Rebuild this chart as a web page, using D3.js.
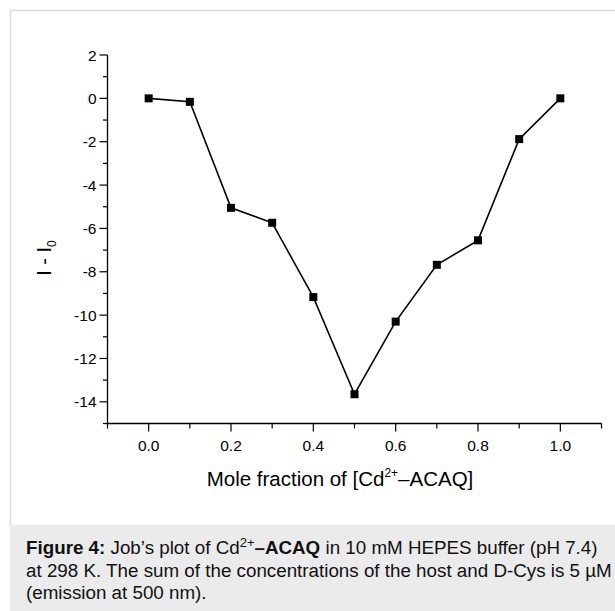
<!DOCTYPE html>
<html><head><meta charset="utf-8">
<script src="https://cdn.jsdelivr.net/npm/d3@7"></script>
<style>
body{margin:0;background:#fff;}
svg{display:block;font-family:"Liberation Sans",Arial,sans-serif;}
</style></head><body>
<svg id="c" width="615" height="611"></svg>
<script>
const moleFraction = [0.0, 0.1, 0.2, 0.3, 0.4, 0.5, 0.6, 0.7, 0.8, 0.9, 1.0];
const intensityDiff = [0.0, -0.16, -5.05, -5.74, -9.17, -13.65, -10.3, -7.68, -6.55, -1.88, 0.0];
const xTicks = [0.0, 0.2, 0.4, 0.6, 0.8, 1.0];
const yTicks = [2, 0, -2, -4, -6, -8, -10, -12, -14];
const captionLines = [
  [{t:"Figure 4:",b:true},{t:" Job’s plot of Cd"},{t:"2+",sup:true},{t:"–ACAQ",b:true},{t:" in 10 mM HEPES buffer (pH 7.4)"}],
  [{t:"at 298 K. The sum of the concentrations of the host and D-Cys is 5 µM"}],
  [{t:"(emission at 500 nm)."}]
];

const svg = d3.select("#c");
// figure frame
svg.append("line").attr("x1",10.5).attr("x2",615).attr("y1",10.5).attr("y2",10.5).attr("stroke","#dcdcdc").attr("stroke-width",1.5);
svg.append("line").attr("x1",10.5).attr("x2",10.5).attr("y1",10.5).attr("y2",525).attr("stroke","#dcdcdc").attr("stroke-width",1.5);
svg.append("rect").attr("x",10).attr("y",525).attr("width",605).attr("height",86).attr("fill","#ebebeb");

const x = d3.scaleLinear().domain([-0.1,1.1]).range([107.5,601.5]);
const y = d3.scaleLinear().domain([-15,2]).range([423.5,55]);

const g = svg.append("g");
// x axis
const xAxisG = g.append("g").attr("transform","translate(0,423.5)");
xAxisG.append("line").attr("x1",x(-0.1)).attr("x2",x(1.1)).attr("stroke","#000").attr("stroke-width",1.3);
const xMinor = d3.range(-1,12).map(i=>i/10);
xAxisG.selectAll("line.t").data(xMinor).join("line").attr("class","t")
  .attr("x1",d=>x(d)).attr("x2",d=>x(d)).attr("y1",0)
  .attr("y2",d=>xTicks.some(v=>Math.abs(v-d)<1e-9)?8:5).attr("stroke","#000").attr("stroke-width",1.2);
xAxisG.selectAll("text").data(xTicks).join("text")
  .attr("x",d=>x(d)).attr("y",27).attr("text-anchor","middle").attr("font-size",15.5).attr("fill","#000")
  .text(d=>d3.format(".1f")(d));

// y axis
const yAxisG = g.append("g").attr("transform","translate(107.5,0)");
yAxisG.append("line").attr("y1",y(2)).attr("y2",y(-15)).attr("stroke","#000").attr("stroke-width",1.3);
const yMinor = d3.range(-15,3);
yAxisG.selectAll("line.t").data(yMinor).join("line").attr("class","t")
  .attr("y1",d=>y(d)).attr("y2",d=>y(d)).attr("x1",0)
  .attr("x2",d=>yTicks.includes(d)?-8:-4.5).attr("stroke","#000").attr("stroke-width",1.2);
yAxisG.selectAll("text").data(yTicks).join("text")
  .attr("x",-11).attr("y",d=>y(d)+5.5).attr("text-anchor","end").attr("font-size",15.5).attr("fill","#000")
  .text(d=>d<0?"-"+Math.abs(d):d);

// axis titles
const xt = svg.append("text").attr("x",340).attr("y",486).attr("text-anchor","middle").attr("font-size",20.5).attr("fill","#000");
xt.append("tspan").text("Mole fraction of [Cd");
xt.append("tspan").attr("font-size",12).attr("dy",-9).text("2+");
xt.append("tspan").attr("dy",9).text("–ACAQ]");

const yt = svg.append("text").attr("transform","translate(51,258) rotate(-90)").attr("text-anchor","middle").attr("font-size",20).attr("fill","#000");
yt.append("tspan").text("I - I");
yt.append("tspan").attr("font-size",12).attr("dy",5).text("0");

// line + markers
const pts = moleFraction.map((v,i)=>[v,intensityDiff[i]]);
g.append("path").datum(pts).attr("fill","none").attr("stroke","#000").attr("stroke-width",1.6)
  .attr("d",d3.line().x(d=>x(d[0])).y(d=>y(d[1])));
g.selectAll("rect.m").data(pts).join("rect").attr("class","m")
  .attr("x",d=>x(d[0])-4).attr("y",d=>y(d[1])-4).attr("width",8).attr("height",8).attr("fill","#000");

// caption
captionLines.forEach((line,li)=>{
  const t = svg.append("text").attr("x",26).attr("y",554+li*22.5).attr("font-size",18.8).attr("fill","#111");
  line.forEach((s,i)=>{
    const sp = t.append("tspan").text(s.t);
    if(s.b) sp.attr("font-weight","bold");
    if(s.sup) sp.attr("font-size",13).attr("dy",-7);
    else if(i>0 && line[i-1].sup) sp.attr("dy",7);
  });
});
</script>
</body></html>
